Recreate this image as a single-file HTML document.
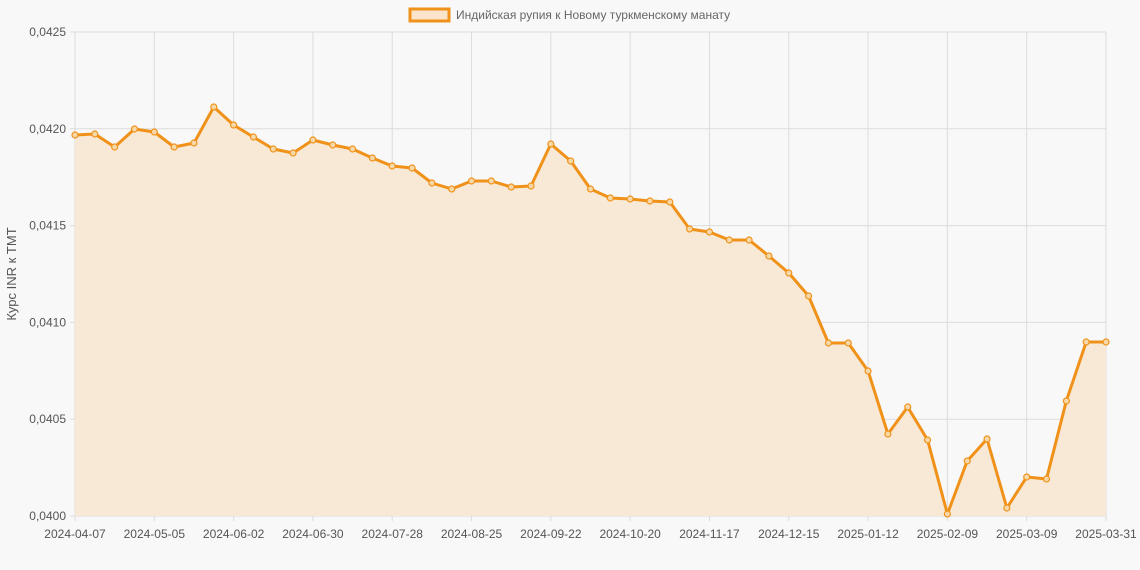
<!DOCTYPE html>
<html><head><meta charset="utf-8"><style>
html,body{margin:0;padding:0;background:#f8f8f8;}
svg{display:block;font-family:"Liberation Sans",Arial,sans-serif;}
</style></head><body>
<svg id="s" width="1140" height="570" xmlns="http://www.w3.org/2000/svg">
<rect x="0" y="0" width="1140" height="570" fill="#f8f8f8"/>
<g id="grid" stroke="#dcdcdc" stroke-width="1"></g>
<polygon id="area" fill="#f7e9d5" stroke="none"/>
<polyline id="line" fill="none" stroke="#f0921a" stroke-width="3" stroke-linejoin="round"/>
<g id="pts" fill="#f7d8a8" stroke="#f0921a" stroke-width="1.2"></g>
<g id="lbl" fill="#555" font-size="12"></g>
<rect x="410" y="9" width="39" height="12" fill="#fbe4cc" stroke="#f0921a" stroke-width="3"/>
<text x="456" y="19" font-size="12" fill="#666">Индийская рупия к Новому туркменскому манату</text>
<text transform="translate(16,274) rotate(-90)" text-anchor="middle" font-size="13" fill="#555">Курс INR к ТМТ</text>
</svg>
<script>
var ys=[135,134,147,129,132,147,143,107,125,137,149,153,140,145,149,158,166,168,183,189,181,181,187,186,144,161,189,198,199,201,202,229,232,240,240,256,273,296,343,343,371,434,407,440,514,461,439,508,477,479,401,342,342];
var NS="http://www.w3.org/2000/svg";
function el(t,a,p){var e=document.createElementNS(NS,t);for(var k in a)e.setAttribute(k,a[k]);p.appendChild(e);return e;}
var g=document.getElementById('grid'),L=document.getElementById('lbl'),P=document.getElementById('pts');
var x0=75,x1=1106,dx=(x1-x0)/52;
var yl=["0,0425","0,0420","0,0415","0,0410","0,0405","0,0400"];
for(var i=0;i<6;i++){var y=32+i*96.8;el('line',{x1:70,x2:1106,y1:y,y2:y},g);var t=el('text',{x:66,y:y+4,'text-anchor':'end'},L);t.textContent=yl[i];}
var xl=["2024-04-07","2024-05-05","2024-06-02","2024-06-30","2024-07-28","2024-08-25","2024-09-22","2024-10-20","2024-11-17","2024-12-15","2025-01-12","2025-02-09","2025-03-09","2025-03-31"];
for(var i=0;i<14;i++){var idx=i<13?i*4:52;var x=x0+idx*dx;el('line',{x1:x,x2:x,y1:32,y2:521},g);var t=el('text',{x:x,y:538,'text-anchor':'middle'},L);t.textContent=xl[i];}
var pts=ys.map(function(y,i){return (x0+i*dx).toFixed(1)+','+y;});
document.getElementById('line').setAttribute('points',pts.join(' '));
document.getElementById('area').setAttribute('points',pts.join(' ')+' 1106,516 75,516');
ys.forEach(function(y,i){el('circle',{cx:x0+i*dx,cy:y,r:3},P);});
</script>
</body></html>
